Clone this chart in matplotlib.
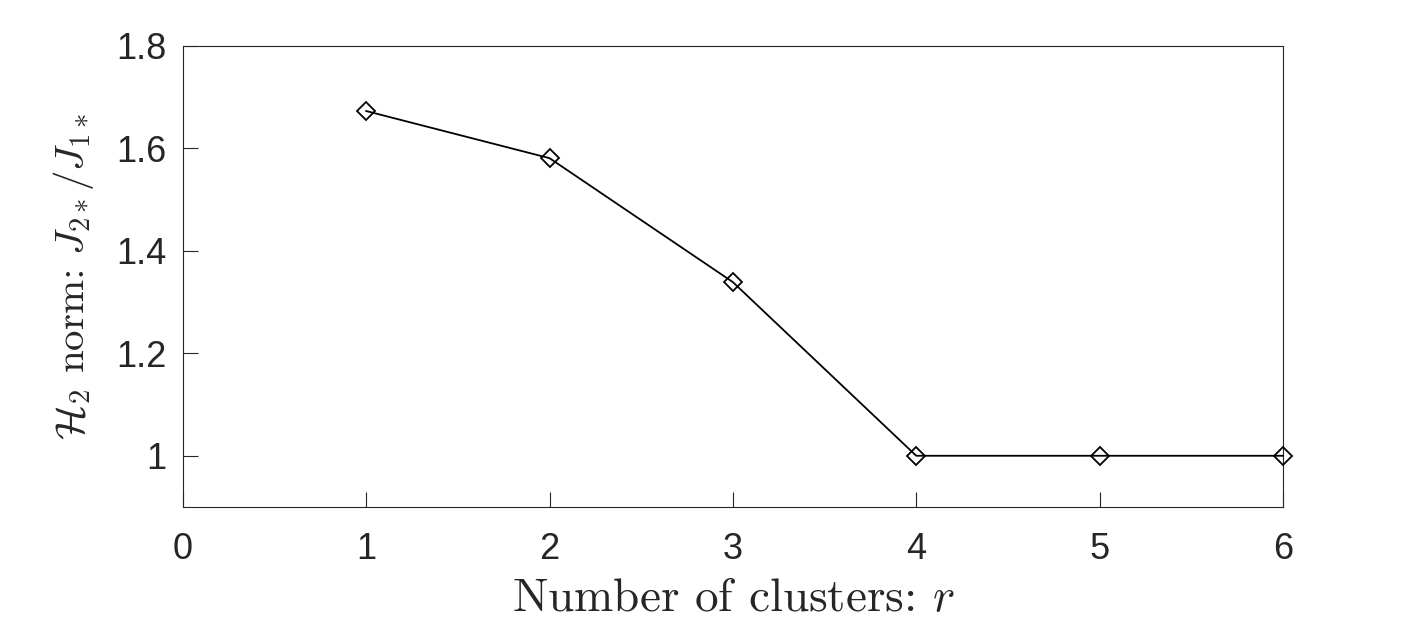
import matplotlib
matplotlib.use("Agg")
import matplotlib.pyplot as plt

plt.rcParams['mathtext.fontset'] = 'cm'
plt.rcParams['font.family'] = ['Liberation Sans', 'DejaVu Sans']

clusters = [1, 2, 3, 4, 5, 6]
ratio = [1.673, 1.581, 1.339, 1.0, 1.0, 1.0]

xticks = [0, 1, 2, 3, 4, 5, 6]
yticks = [1.0, 1.2, 1.4, 1.6, 1.8]
ytick_labels = ['1', '1.2', '1.4', '1.6', '1.8']

fig = plt.figure(figsize=(14.17, 6.28), dpi=100)
ax = fig.add_axes([0.129, 0.1927, 0.7764, 0.7341])

ax.plot(clusters, ratio, color='black', linewidth=1.3, marker='D',
        markersize=9, markerfacecolor='none', markeredgecolor='black',
        markeredgewidth=1.3, clip_on=False, zorder=3)

ax.set_xlim(0, 6)
ax.set_ylim(0.9, 1.8)
ax.set_xticks(xticks)
ax.set_yticks(yticks)
ax.set_yticklabels(ytick_labels)

ax.tick_params(direction='in', length=11, width=0.8, labelsize=26,
               colors='#262626', top=False, right=False)
ax.tick_params(axis='x', pad=18)
ax.tick_params(axis='y', pad=12)
for s in ax.spines.values():
    s.set_linewidth(0.8)
    s.set_color('#262626')

ax.set_xlabel('Number of clusters: $r$', fontsize=34, labelpad=8,
              color='#262626', family=['cmr10'])
ax.set_ylabel(r'$\mathcal{H}_2$ norm: $J_{2*}/J_{1*}$', fontsize=29.5,
              labelpad=14, color='#262626', family=['cmr10'])

fig.savefig('out.png', dpi=100)
